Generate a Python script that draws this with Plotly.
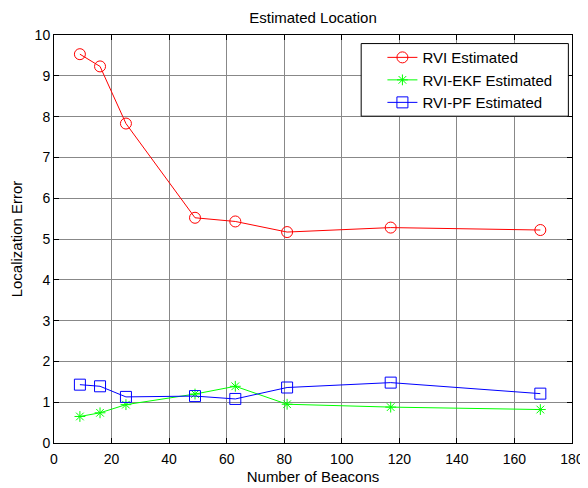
import plotly.graph_objects as go

beacons = [9, 16, 25, 49, 63, 81, 117, 169]
rvi = [9.53, 9.23, 7.83, 5.52, 5.43, 5.17, 5.28, 5.22]
rvi_ekf = [0.65, 0.74, 0.94, 1.20, 1.39, 0.95, 0.88, 0.82]
rvi_pf = [1.43, 1.39, 1.13, 1.15, 1.08, 1.36, 1.48, 1.21]

x_ticks = [0, 20, 40, 60, 80, 100, 120, 140, 160, 180]
y_ticks = [0, 1, 2, 3, 4, 5, 6, 7, 8, 9, 10]

fig = go.Figure()
fig.add_trace(go.Scatter(x=beacons, y=rvi, mode="lines+markers", name="RVI Estimated",
                         line=dict(color="#ff0000", width=1),
                         marker=dict(symbol="circle-open", size=11, color="#ff0000", line=dict(width=1))))
fig.add_trace(go.Scatter(x=beacons, y=rvi_ekf, mode="lines+markers", name="RVI-EKF Estimated",
                         line=dict(color="#00ff00", width=1),
                         marker=dict(symbol="asterisk-open", size=9, color="#00ff00", line=dict(width=1, color="#00ff00"))))
fig.add_trace(go.Scatter(x=beacons, y=rvi_pf, mode="lines+markers", name="RVI-PF Estimated",
                         line=dict(color="#0000ff", width=1),
                         marker=dict(symbol="square-open", size=11, color="#0000ff", line=dict(width=1))))

axis_common = dict(showline=True, linecolor="black", linewidth=1, mirror="ticks",
                   ticks="inside", ticklen=5, tickcolor="black", automargin=False,
                   showgrid=True, gridcolor="#888888", gridwidth=1, zeroline=False,
                   tickfont=dict(size=14, color="black"))

# legend frame (white box with black border)
fig.add_shape(type="rect", xref="paper", yref="paper", x0=0.593, x1=0.993, y0=0.801, y1=0.979,
              fillcolor="white", line=dict(color="black", width=1), layer="above")

fig.update_layout(
    width=580, height=480,
    margin=dict(l=46, r=16, t=27, b=45),
    paper_bgcolor="white", plot_bgcolor="white",
    font=dict(family="Liberation Sans, Arial, sans-serif", size=15, color="black"),
    title=dict(text="Estimated Location", x=0.5, xref="paper", xanchor="center",
               y=0.979, yref="container", yanchor="middle",
               font=dict(size=15, color="black")),
    xaxis=dict(range=[0, 180], tickvals=x_ticks, ticklabelstandoff=3,
               title=dict(text="Number of Beacons", font=dict(size=15), standoff=5), **axis_common),
    yaxis=dict(range=[0, 10], tickvals=y_ticks,
               title=dict(text="Localization Error", font=dict(size=15), standoff=13), **axis_common),
    legend=dict(x=0.634, y=0.985, xanchor="left", yanchor="top",
                bgcolor="rgba(0,0,0,0)", borderwidth=0,
                font=dict(size=15, color="black")),
    showlegend=True,
)

fig.write_html("out.html")
